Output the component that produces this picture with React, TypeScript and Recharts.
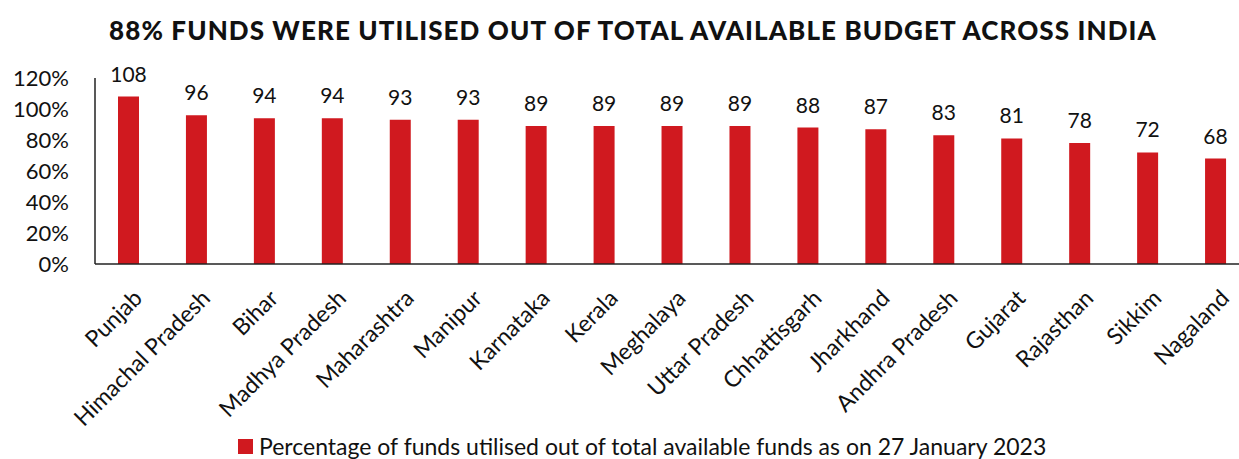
import React from 'react';
import { BarChart, Bar, XAxis, YAxis, LabelList, Legend } from 'recharts';

const states = [
  'Punjab', 'Himachal Pradesh', 'Bihar', 'Madhya Pradesh', 'Maharashtra', 'Manipur', 'Karnataka',
  'Kerala', 'Meghalaya', 'Uttar Pradesh', 'Chhattisgarh', 'Jharkhand', 'Andhra Pradesh',
  'Gujarat', 'Rajasthan', 'Sikkim', 'Nagaland',
];
const utilised = [108, 96, 94, 94, 93, 93, 89, 89, 89, 89, 88, 87, 83, 81, 78, 72, 68];
const yTicks = [0, 20, 40, 60, 80, 100, 120];

const seriesName = 'Percentage of funds utilised out of total available funds as on 27 January 2023';
const RED = '#D0191F';
const FONT = 'Lato, "Open Sans", sans-serif';

const data = states.map((s, i) => ({ state: s, value: utilised[i] }));

// rotated category label, end of text sits at the tick
const StateTick = (props: any) => {
  const { x, y, payload } = props;
  return (
    <g transform={`translate(${x + 3},${y})`}>
      <text
        transform="rotate(-45)"
        textAnchor="end"
        dy="0.72em"
        fontSize={23}
        fill="#111"
        fontFamily={FONT}
      >
        {payload.value}
      </text>
    </g>
  );
};

const LegendBox = () => (
  <div style={{ display: 'flex', alignItems: 'center', marginLeft: 238, height: 26, fontFamily: FONT, fontSize: 23, color: '#111' }}>
    <span style={{ display: 'inline-block', width: 15, height: 15, background: RED, marginRight: 6 }} />
    {seriesName}
  </div>
);

export default function App() {
  return (
    <div style={{ position: 'relative', width: 1239, height: 459, overflow: 'hidden', background: '#fff' }}>
      <style>{'body{margin:0;overflow:hidden;}'}</style>
      <div
        style={{
          position: 'absolute', top: 14, left: 0, width: 1266, textAlign: 'center',
          fontFamily: FONT, fontWeight: 900, fontSize: 26, lineHeight: '32px', color: '#111', letterSpacing: 1.1,
        }}
      >
        88% FUNDS WERE UTILISED OUT OF TOTAL AVAILABLE BUDGET ACROSS INDIA
      </div>
      <div style={{ position: 'absolute', top: 0, left: 0 }}>
        <BarChart
          width={1262}
          height={459}
          data={data}
          margin={{ top: 78, right: 12, bottom: 0, left: 0 }}
          barCategoryGap={0}
        >
          <XAxis
            dataKey="state"
            interval={0}
            tickLine={false}
            tickMargin={18}
            height={169}
            tick={<StateTick />}
            axisLine={{ stroke: '#222', strokeWidth: 1.5 }}
          />
          <YAxis
            domain={[0, 120]}
            ticks={yTicks}
            interval={0}
            tickFormatter={(v) => `${v}%`}
            tickLine={false}
            width={95}
            tickMargin={20}
            tick={{ fontSize: 22, fill: '#111', fontFamily: FONT }}
            axisLine={{ stroke: '#222', strokeWidth: 1.5 }}
          />
          <Legend
            verticalAlign="bottom"
            content={<LegendBox />}
            wrapperStyle={{ bottom: 0, left: 0, width: 1239 }}
          />
          <Bar dataKey="value" name={seriesName} fill={RED} barSize={21} isAnimationActive={false}>
            <LabelList dataKey="value" position="top" offset={15} fontSize={21} fill="#111" fontFamily={FONT} />
          </Bar>
        </BarChart>
      </div>
    </div>
  );
}
